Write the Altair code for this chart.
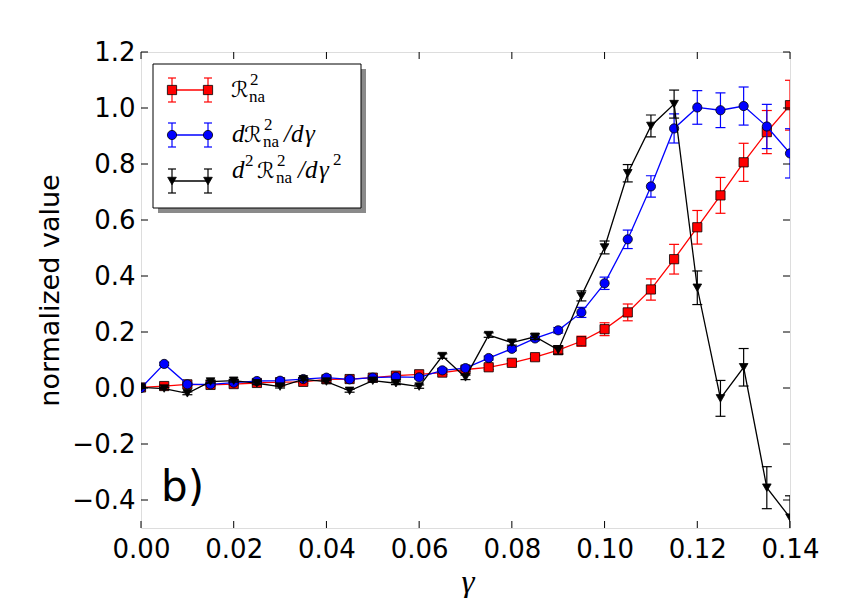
import altair as alt
import pandas as pd

# ---------------- data ----------------
gamma = [0.000, 0.005, 0.010, 0.015, 0.020, 0.025, 0.030, 0.035, 0.040, 0.045,
         0.050, 0.055, 0.060, 0.065, 0.070, 0.075, 0.080, 0.085, 0.090, 0.095,
         0.100, 0.105, 0.110, 0.115, 0.120, 0.125, 0.130, 0.135, 0.140]

r2 = [0.002, 0.007, 0.013, 0.011, 0.014, 0.018, 0.021, 0.022, 0.031, 0.032,
      0.037, 0.044, 0.049, 0.055, 0.066, 0.074, 0.090, 0.110, 0.135, 0.167,
      0.210, 0.270, 0.352, 0.460, 0.574, 0.688, 0.806, 0.914, 1.010]
r2_err = [0.004, 0.004, 0.004, 0.004, 0.004, 0.004, 0.005, 0.005, 0.005, 0.005,
          0.006, 0.006, 0.006, 0.007, 0.007, 0.008, 0.009, 0.010, 0.013, 0.018,
          0.023, 0.030, 0.038, 0.053, 0.060, 0.064, 0.068, 0.077, 0.089]

dr2 = [0.000, 0.086, 0.013, 0.013, 0.019, 0.025, 0.026, 0.032, 0.037, 0.031,
       0.037, 0.040, 0.038, 0.063, 0.071, 0.107, 0.140, 0.177, 0.206, 0.270,
       0.374, 0.531, 0.720, 0.927, 1.002, 0.992, 1.007, 0.934, 0.838]
dr2_err = [0.004, 0.006, 0.004, 0.004, 0.004, 0.004, 0.004, 0.004, 0.004, 0.004,
           0.005, 0.005, 0.005, 0.006, 0.006, 0.007, 0.007, 0.008, 0.010, 0.018,
           0.022, 0.033, 0.038, 0.052, 0.060, 0.062, 0.068, 0.079, 0.088]

d2r2 = [0.002, -0.002, -0.019, 0.023, 0.026, 0.017, 0.005, 0.031, 0.023, -0.010,
        0.026, 0.017, 0.005, 0.114, 0.038, 0.189, 0.162, 0.183, 0.136, 0.329,
        0.502, 0.767, 0.936, 1.014, 0.358, -0.037, 0.074, -0.356, -0.463]
d2r2_err = [0.004, 0.004, 0.005, 0.005, 0.005, 0.005, 0.005, 0.005, 0.005, 0.005,
            0.005, 0.005, 0.006, 0.008, 0.008, 0.008, 0.009, 0.010, 0.015, 0.018,
            0.023, 0.031, 0.039, 0.050, 0.060, 0.064, 0.067, 0.075, 0.078]

x_ticks = [0.00, 0.02, 0.04, 0.06, 0.08, 0.10, 0.12, 0.14]
y_ticks = [-0.4, -0.2, 0.0, 0.2, 0.4, 0.6, 0.8, 1.0, 1.2]

series = [
    ("R", r2, r2_err, "#ff0000", "square", 85),
    ("dR", dr2, dr2_err, "#0000ff", "circle", 85),
    ("d2R", d2r2, d2r2_err, "#000000", "triangle-down", 75),
]

W, H = 649, 476
X_DOMAIN = [0.0, 0.14]
Y_DOMAIN = [-0.5, 1.2]

xscale = alt.Scale(domain=X_DOMAIN, nice=False, zero=False)
yscale = alt.Scale(domain=Y_DOMAIN, nice=False, zero=False)

LABEL_FONT = "DejaVu Sans"
MATH_FONT = "Liberation Serif"

xaxis = alt.Axis(values=x_ticks, format=".2f", ticks=False, domain=False, grid=False,
                 labelFont=LABEL_FONT, labelFontSize=26, labelPadding=8, labelColor="black",
                 labelFlush=False, labelOverlap=False,
                 title="γ", titleFont=MATH_FONT, titleFontStyle="italic", titleFontWeight="normal",
                 titleFontSize=33, titleColor="black", titleX=W / 2 + 2, titleY=64,
                 titleAlign="center", titleBaseline="alphabetic")
yaxis = alt.Axis(values=y_ticks, format=".1f", ticks=False, domain=False, grid=False,
                 labelFont=LABEL_FONT, labelFontSize=26, labelPadding=6, labelColor="black",
                 labelFlush=False, labelOverlap=False,
                 title="normalized value", titleFont=LABEL_FONT, titleFontWeight="normal",
                 titleFontSize=27, titleColor="black", titleAngle=-90, titleX=-91, titleY=H / 2,
                 titleAlign="center", titleBaseline="middle")

layers = []

# base layer carrying the axes
base_df = pd.DataFrame({"gamma": gamma, "v": r2})
layers.append(
    alt.Chart(base_df).mark_point(opacity=0).encode(
        x=alt.X("gamma:Q", scale=xscale, axis=xaxis),
        y=alt.Y("v:Q", scale=yscale, axis=yaxis),
    )
)

for name, vals, errs, col, shape, size in series:
    df = pd.DataFrame({
        "gamma": gamma,
        "v": vals,
        "lo": [v - e for v, e in zip(vals, errs)],
        "hi": [v + e for v, e in zip(vals, errs)],
    })
    c = alt.Chart(df)
    X = alt.X("gamma:Q", scale=xscale)
    layers.append(c.mark_rule(color=col, strokeWidth=1.2, clip=True).encode(
        x=X, y=alt.Y("lo:Q", scale=yscale), y2="hi:Q"))
    for f in ("lo", "hi"):
        layers.append(c.mark_tick(color=col, orient="horizontal", size=10, thickness=1.2,
                                  clip=True, opacity=1).encode(
            x=X, y=alt.Y(f"{f}:Q", scale=yscale)))
    layers.append(c.mark_line(color=col, strokeWidth=1.3, clip=True).encode(
        x=X, y=alt.Y("v:Q", scale=yscale)))
    layers.append(c.mark_point(shape=shape, size=size, filled=True, fill=col, stroke="black",
                               strokeWidth=0.8, opacity=1, clip=True).encode(
        x=X, y=alt.Y("v:Q", scale=yscale)))

# inside ticks on all four sides
xt = pd.DataFrame({"t": x_ticks})
yt = pd.DataFrame({"t": y_ticks})
TL = 7
layers.append(alt.Chart(xt).mark_rule(color="black", strokeWidth=1).encode(
    x=alt.X("t:Q", scale=xscale), y=alt.value(H), y2=alt.value(H - TL)))
layers.append(alt.Chart(xt).mark_rule(color="black", strokeWidth=1).encode(
    x=alt.X("t:Q", scale=xscale), y=alt.value(0), y2=alt.value(TL)))
layers.append(alt.Chart(yt).mark_rule(color="black", strokeWidth=1).encode(
    y=alt.Y("t:Q", scale=yscale), x=alt.value(0), x2=alt.value(TL)))
layers.append(alt.Chart(yt).mark_rule(color="black", strokeWidth=1).encode(
    y=alt.Y("t:Q", scale=yscale), x=alt.value(W), x2=alt.value(W - TL)))

# panel label
one = pd.DataFrame({"k": [0]})
layers.append(alt.Chart(one).mark_text(text="b)", font=LABEL_FONT, fontSize=42, align="left",
                                       baseline="alphabetic", color="black").encode(
    x=alt.value(20), y=alt.value(449)))

# ---------------- legend ----------------
BX0, BX1, BY0, BY1 = 12, 220, 12, 156
layers.append(alt.Chart(one).mark_rect(color="#8a8a8a").encode(
    x=alt.value(BX0 + 5), x2=alt.value(BX1 + 5), y=alt.value(BY0 + 5), y2=alt.value(BY1 + 5)))
layers.append(alt.Chart(one).mark_rect(fill="white", stroke="black", strokeWidth=1).encode(
    x=alt.value(BX0), x2=alt.value(BX1), y=alt.value(BY0), y2=alt.value(BY1)))

row_y = [38, 83, 129]
LX0, LX1 = 31, 67
for (name, vals, errs, col, shape, size), ry in zip(series, row_y):
    layers.append(alt.Chart(one).mark_rule(color=col, strokeWidth=1.3).encode(
        x=alt.value(LX0), x2=alt.value(LX1), y=alt.value(ry)))
    for lx in (LX0, LX1):
        layers.append(alt.Chart(one).mark_rule(color=col, strokeWidth=1.2).encode(
            x=alt.value(lx), y=alt.value(ry - 12), y2=alt.value(ry + 12)))
        for dy in (-12, 12):
            layers.append(alt.Chart(one).mark_rule(color=col, strokeWidth=1.2).encode(
                x=alt.value(lx - 4), x2=alt.value(lx + 4), y=alt.value(ry + dy)))
        layers.append(alt.Chart(one).mark_point(shape=shape, size=size, filled=True, fill=col,
                                                stroke="black", strokeWidth=0.8, opacity=1).encode(
            x=alt.value(lx), y=alt.value(ry)))


def txt(s, x, y, size=25, style="italic", font=MATH_FONT):
    return alt.Chart(one).mark_text(text=s, font=font, fontSize=size, fontStyle=style,
                                    align="left", baseline="alphabetic", color="black").encode(
        x=alt.value(x), y=alt.value(y))


def script_r(x, y):
    return txt("ℛ", x, y, 22, "normal", "DejaVu Sans")


SS = 17  # sub/superscript size
# row 1: R^2_na
b = 45
layers += [script_r(90, b), txt("2", 109, b - 12, SS, "normal"),
           txt("na", 108, b + 5, SS, "normal")]
# row 2: dR^2_na / dγ
b = 90
layers += [txt("d", 91, b), script_r(103, b),
           txt("2", 123, b - 12, SS, "normal"), txt("na", 122, b + 5, SS, "normal"),
           txt("/", 143, b), txt("d", 150, b), txt("γ", 164, b)]
# row 3: d^2 R^2_na / dγ^2
b = 126
layers += [txt("d", 91, b), txt("2", 104, b - 12, SS, "normal"),
           script_r(116, b), txt("2", 136, b - 12, SS, "normal"),
           txt("na", 135, b + 5, SS, "normal"), txt("/", 157, b), txt("d", 164, b),
           txt("γ", 178, b), txt("2", 192, b - 13, SS, "normal")]

chart = alt.layer(*layers).properties(
    width=W, height=H,
    autosize=alt.AutoSizeParams(type="none"),
    padding={"left": 133, "top": 44, "right": 60, "bottom": 70},
).configure_view(stroke="black", strokeWidth=1.5).configure(background="white")

chart.save("out.html", embed_options={"renderer": "svg", "actions": False})
